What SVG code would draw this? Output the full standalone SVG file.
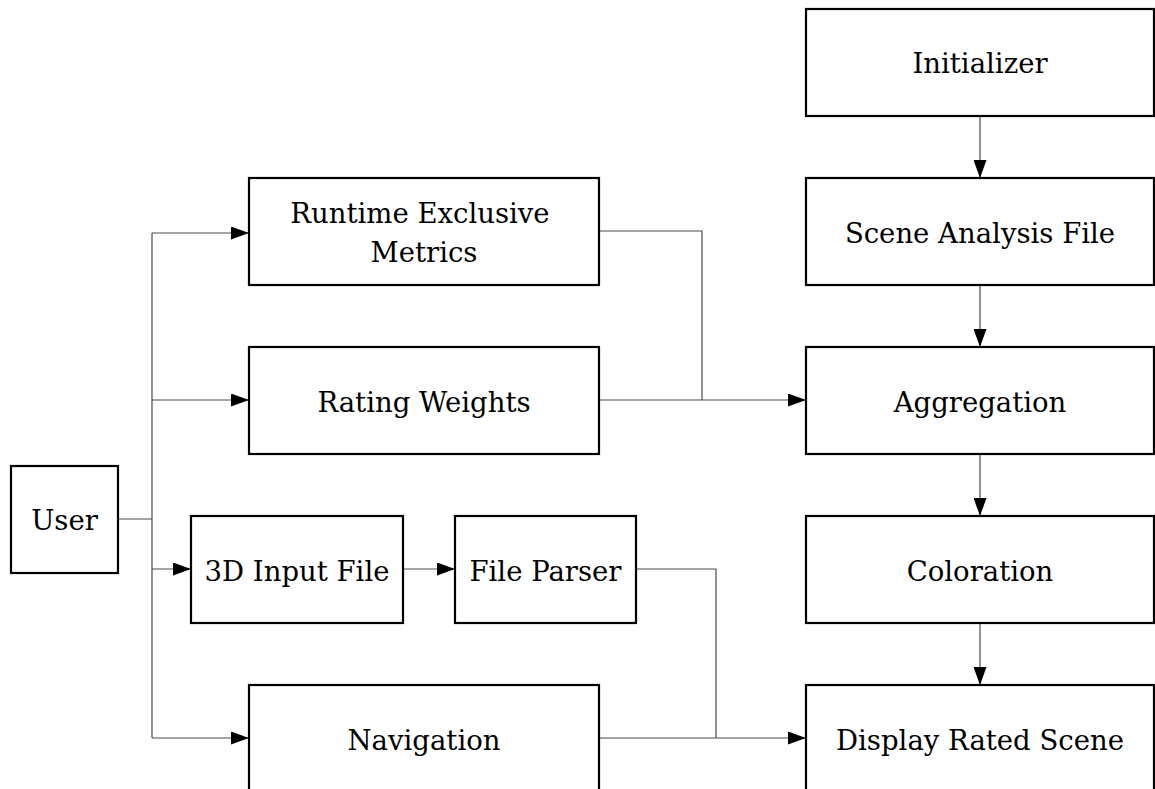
<svg xmlns="http://www.w3.org/2000/svg" width="1155" height="789" viewBox="0 0 1155 789">
<defs>
<style>
.box{fill:#fff;stroke:#000;stroke-width:2.2}
.lbl{font-family:"DejaVu Serif","Liberation Serif",serif;font-size:27.5px;fill:#000;text-anchor:middle}
.c{fill:none;stroke:#4a4a4a;stroke-width:1.2}
</style>
<marker id="ah" viewBox="0 0 18 13" refX="18" refY="6.5" markerWidth="18" markerHeight="13" markerUnits="userSpaceOnUse" orient="auto">
<path d="M0,0 L18,6.5 L0,13 Z" fill="#000"/>
</marker>
</defs>
<rect width="1155" height="789" fill="#fff"/>
<g id="connectors">
<path class="c" d="M118,519 H152"/>
<path class="c" d="M152,233 V738"/>
<path class="c" d="M152,233 H249" marker-end="url(#ah)"/>
<path class="c" d="M152,400 H249" marker-end="url(#ah)"/>
<path class="c" d="M152,569 H191" marker-end="url(#ah)"/>
<path class="c" d="M152,738 H249" marker-end="url(#ah)"/>
<path class="c" d="M403,569 H455" marker-end="url(#ah)"/>
<path class="c" d="M599,231 H702 V400"/>
<path class="c" d="M599,400 H806" marker-end="url(#ah)"/>
<path class="c" d="M636,569 H716 V738"/>
<path class="c" d="M599,738 H806" marker-end="url(#ah)"/>
<path class="c" d="M980,116 V178" marker-end="url(#ah)"/>
<path class="c" d="M980,285 V347" marker-end="url(#ah)"/>
<path class="c" d="M980,454 V516" marker-end="url(#ah)"/>
<path class="c" d="M980,623 V685" marker-end="url(#ah)"/>
</g>
<g id="user"><rect class="box" x="11" y="466" width="107" height="107"/><text class="lbl" x="64.5" y="530">User</text></g>
<g id="runtime"><rect class="box" x="249" y="178" width="350" height="107"/><text class="lbl" x="420" y="223">Runtime Exclusive</text><text class="lbl" x="424" y="262">Metrics</text></g>
<g id="rating"><rect class="box" x="249" y="347" width="350" height="107"/><text class="lbl" x="424" y="412">Rating Weights</text></g>
<g id="input3d"><rect class="box" x="191" y="516" width="212" height="107"/><text class="lbl" x="297" y="581">3D Input File</text></g>
<g id="parser"><rect class="box" x="455" y="516" width="181" height="107"/><text class="lbl" x="545.5" y="581">File Parser</text></g>
<g id="navigation"><rect class="box" x="249" y="685" width="350" height="120"/><text class="lbl" x="424" y="750">Navigation</text></g>
<g id="initializer"><rect class="box" x="806" y="9" width="348" height="107"/><text class="lbl" x="980" y="73">Initializer</text></g>
<g id="sceneanalysis"><rect class="box" x="806" y="178" width="348" height="107"/><text class="lbl" x="980" y="243">Scene Analysis File</text></g>
<g id="aggregation"><rect class="box" x="806" y="347" width="348" height="107"/><text class="lbl" x="980" y="412">Aggregation</text></g>
<g id="coloration"><rect class="box" x="806" y="516" width="348" height="107"/><text class="lbl" x="980" y="581">Coloration</text></g>
<g id="display"><rect class="box" x="806" y="685" width="348" height="120"/><text class="lbl" x="980" y="750">Display Rated Scene</text></g>
</svg>
